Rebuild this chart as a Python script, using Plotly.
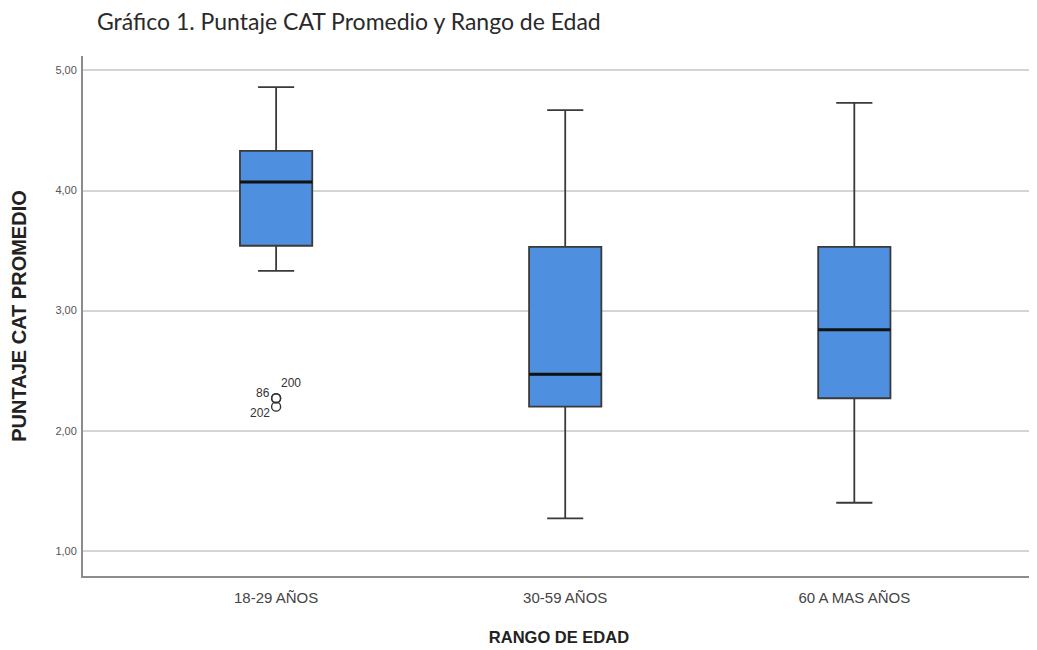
import plotly.graph_objects as go

categories = ["18-29 AÑOS", "30-59 AÑOS", "60 A MAS AÑOS"]
upper_whisker = [4.86, 4.67, 4.73]
q3 = [4.33, 3.53, 3.53]
median = [4.07, 2.47, 2.84]
q1 = [3.54, 2.20, 2.27]
lower_whisker = [3.33, 1.27, 1.40]

outlier_values = [2.27, 2.27, 2.20]
outlier_labels = ["200", "86", "202"]
outlier_group = [0, 0, 0]

yticks = [1, 2, 3, 4, 5]
ytick_labels = ["1,00", "2,00", "3,00", "4,00", "5,00"]

box_w = 0.25
fill = "#4f8fdf"
edge = "#3a3a3a"

fig = go.Figure()
xs = list(range(len(categories)))
fig.add_trace(go.Box(
    x=xs, q1=q1, median=median, q3=q3,
    lowerfence=lower_whisker, upperfence=upper_whisker,
    fillcolor=fill, line=dict(color=edge, width=1.8),
    width=box_w, whiskerwidth=0.5, boxpoints=False,
    showlegend=False, hoverinfo="skip",
))
for i, m in enumerate(median):
    fig.add_trace(go.Scatter(
        x=[i - box_w / 2, i + box_w / 2], y=[m, m], mode="lines",
        line=dict(color="#111111", width=3), showlegend=False, hoverinfo="skip",
    ))

fig.add_trace(go.Scatter(
    x=[xs[g] for g in outlier_group], y=outlier_values, mode="markers",
    marker=dict(symbol="circle-open", size=9, color="#333", line=dict(width=1.4)),
    showlegend=False, hoverinfo="skip",
))
label_style = [
    dict(xanchor="left", yanchor="bottom", xshift=3, yshift=6),
    dict(xanchor="right", yanchor="middle", xshift=-4, yshift=5),
    dict(xanchor="right", yanchor="middle", xshift=-4, yshift=-6),
]
for g, v, lab, st in zip(outlier_group, outlier_values, outlier_labels, label_style):
    fig.add_annotation(x=xs[g], y=v, text=lab, showarrow=False,
                       font=dict(size=12, color="#333", family="Liberation Sans"), **st)

fig.update_layout(
    width=1029, height=642,
    margin=dict(l=75, r=2, t=48, b=74, autoexpand=False),
    paper_bgcolor="white", plot_bgcolor="white",
    title=dict(text="Gráfico 1. Puntaje CAT Promedio y Rango de Edad",
               x=89 / 1029, xanchor="left", y=1 - 14 / 642, yanchor="middle",
               font=dict(family="Lato", size=23, color="#2a2a2a")),
    font=dict(family="Liberation Sans"),
)
fig.update_xaxes(
    range=[-0.668, 2.625], tickvals=xs, ticktext=categories, automargin=False,
    tickfont=dict(size=15, color="#444"), showgrid=False, zeroline=False,
    showline=True, linecolor="#8c8c8c", linewidth=2, ticks="", ticklabelstandoff=7,
    title=dict(text="<b>RANGO DE EDAD</b>", font=dict(size=16.5, color="#222"), standoff=26),
)
fig.update_yaxes(
    range=[0.79, 5.12], tickvals=yticks, ticktext=ytick_labels, automargin=False,
    tickfont=dict(size=11, color="#555"), showgrid=True, gridcolor="#d4d4d4", gridwidth=1.5,
    zeroline=False, showline=True, linecolor="#8c8c8c", linewidth=2, ticks="", ticklabelstandoff=2,
    title=dict(text="<b>PUNTAJE CAT PROMEDIO</b>", font=dict(size=20, color="#222"), standoff=24),
)

fig.write_html("out.html")
